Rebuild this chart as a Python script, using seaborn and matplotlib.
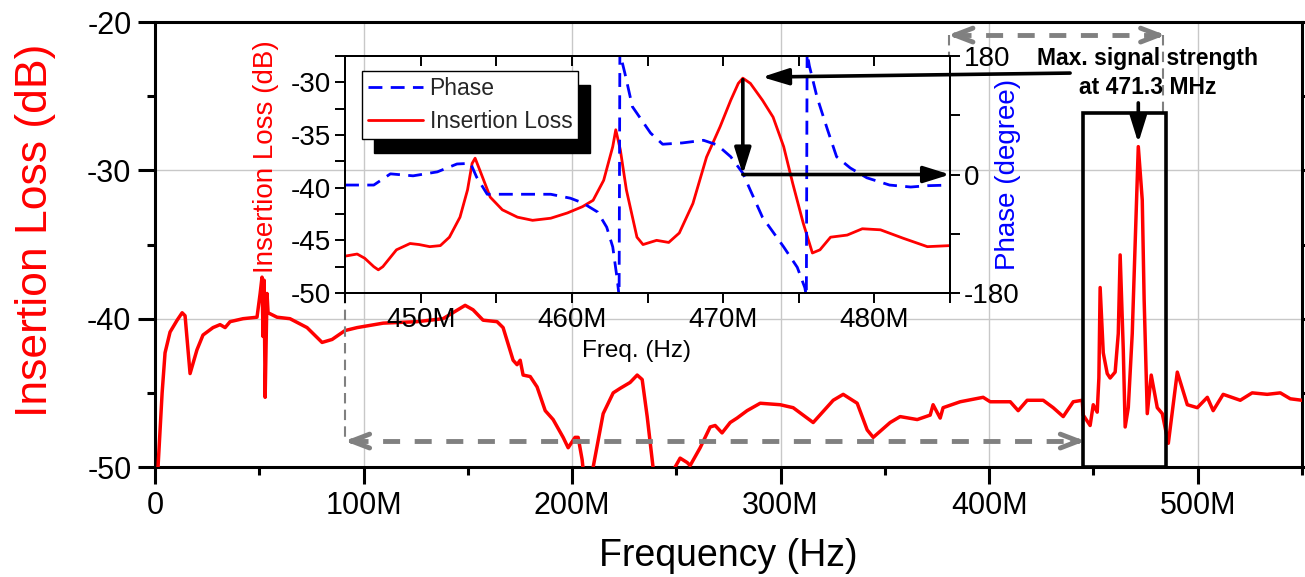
import numpy as np
import pandas as pd
import seaborn as sns
import matplotlib.pyplot as plt
from matplotlib.ticker import MultipleLocator, FuncFormatter, NullFormatter
from matplotlib.lines import Line2D
from matplotlib.patches import Rectangle

# ---- main sweep: frequency (MHz) vs insertion loss (dB)
main_freq = [1.0, 1.44, 3.4, 4.8, 7.2, 10.6, 13.0, 14.4, 16.8, 20.1, 23.0, 27.8,
             31.2, 33.6, 36.0, 42.2, 48.9, 50.4, 51.3, 51.8, 52.3, 52.8, 53.7,
             54.2, 58.5, 64.7, 72.9, 80.1, 84.9, 91.1, 96.9, 109.4, 125.7, 138.1,
             148.7, 152.5, 157.3, 164.0, 166.9, 171.7, 173.6, 175.1, 176.5, 179.9,
             183.2, 187.1, 190.9, 195.7, 198.1, 201.4, 202.9, 204.8, 206.7, 209.0,
             210.1, 214.9, 219.7, 223.0, 227.8, 231.2, 233.6, 236.0, 238.8, 241.0,
             248.0, 249.4, 251.8, 255.2, 256.6, 261.4, 266.2, 268.6, 271.9, 275.8,
             279.1, 283.9, 290.2, 299.8, 306.0, 315.6, 325.2, 330.0, 336.7, 341.5,
             344.4, 352.5, 357.3, 365.5, 371.7, 373.1, 376.5, 377.9, 386.1, 397.1,
             400.5, 410.1, 413.9, 418.2, 425.9, 430.7, 435.5, 440.3, 444.6, 445.1,
             448.4, 449.9, 451.8, 452.6, 453.2, 454.7, 456.6, 458.0, 460.4, 461.9,
             462.8, 464.3, 465.2, 466.7, 468.6, 470.0, 471.5, 473.4, 474.3, 475.8,
             477.7, 480.6, 483.0, 485.9, 490.2, 495.0, 499.8, 504.6, 507.4, 512.2,
             520.4, 526.1, 533.3, 539.6, 544.4, 550.0]
main_loss = [-53.0, -50.0, -45.0, -42.3, -40.9, -40.1, -39.6, -39.8, -43.7, -42.1, -41.1, -40.6,
             -40.4, -40.6, -40.2, -40.0, -39.9, -38.3, -37.2, -41.2, -37.4, -45.3, -38.3,
             -39.6, -39.9, -40.0, -40.6, -41.6, -41.4, -40.8, -40.6, -40.3, -40.2, -40.0,
             -39.1, -39.4, -40.1, -40.2, -40.6, -42.8, -43.1, -42.8, -43.8, -43.9,
             -44.6, -46.2, -46.8, -48.0, -48.7, -48.0, -48.0, -49.5, -52.0, -52.0,
             -50.0, -46.4, -45.0, -44.7, -44.3, -43.8, -44.1, -46.6, -50.0, -53.0,
             -53.0, -50.0, -49.4, -49.7, -49.9, -48.7, -47.3, -47.2, -47.7, -47.0,
             -46.7, -46.2, -45.7, -45.8, -46.0, -47.0, -45.5, -45.1, -45.7, -47.5,
             -48.0, -47.0, -46.6, -46.8, -46.5, -45.8, -46.7, -46.0, -45.6, -45.3,
             -45.6, -45.6, -46.2, -45.5, -45.5, -46.0, -46.6, -45.6, -45.5, -46.5,
             -47.2, -45.8, -46.3, -44.0, -37.9, -42.3, -43.7, -44.0, -43.6, -41.0,
             -35.7, -42.1, -47.3, -46.0, -41.0, -34.9, -28.4, -32.0, -38.7, -46.4,
             -43.8, -46.0, -46.4, -48.4, -43.6, -45.8, -46.0, -45.3, -46.2, -45.1,
             -45.5, -45.0, -45.1, -45.0, -45.4, -45.5]

# ---- zoomed sweep (inset)
zoom_freq = [445.0, 445.8, 446.3, 446.9, 447.2, 447.5, 448.4, 449.3, 449.9, 450.6,
             451.3, 451.9, 452.6, 453.1, 453.4, 453.6, 453.9, 454.6, 455.4, 456.4,
             457.4, 458.6, 459.7, 460.7, 461.4, 462.1, 462.7, 462.9, 463.2, 463.6,
             464.3, 464.7, 465.6, 466.4, 467.1, 468.0, 468.9, 469.8, 470.5, 471.0,
             471.3, 471.8, 472.6, 473.3, 474.0, 474.6, 475.3, 475.9, 476.4, 477.1,
             478.2, 479.2, 480.4, 481.9, 483.5, 485.0]
zoom_loss = [-46.5, -46.3, -46.7, -47.5, -47.8, -47.5, -45.9, -45.3, -45.4, -45.6,
             -45.5, -44.7, -42.8, -40.2, -37.7, -37.2, -38.3, -40.9, -42.1, -42.8,
             -43.1, -42.9, -42.4, -41.8, -41.2, -39.3, -36.1, -34.5, -36.4, -40.2,
             -44.7, -45.4, -45.0, -45.2, -44.3, -41.5, -37.1, -34.2, -31.7, -30.1,
             -29.6, -30.1, -31.7, -33.3, -36.1, -39.6, -43.4, -46.2, -45.9, -44.7,
             -44.5, -43.9, -44.0, -44.8, -45.6, -45.5]

phase_freq = [445.0, 446.9, 448.0, 449.5, 451.1, 452.4, 453.3, 453.7, 454.4, 456.4,
              458.6, 459.9, 460.7, 461.7, 462.3, 462.7, 463.0, 463.12, 463.17, 463.5,
              464.0, 465.2, 466.0, 467.3, 468.7, 469.6, 470.5, 471.3, 471.8, 472.6,
              474.0, 474.9, 475.4, 475.5, 475.55, 475.7, 476.2, 476.9, 477.5, 478.4,
              479.5, 481.0, 482.4, 483.5, 485.0]
phase_deg = [-16, -16, 1, -2, 4, 16, 17, -4, -30, -30,
             -30, -36, -43, -57, -80, -110, -160, -185, 185, 154,
             103, 63, 46, 48, 52, 45, 27, 2, -24, -65,
             -110, -141, -172, -185, 185, 165, 118, 68, 27, 10,
             -5, -16, -19, -17, -16]

peak_freq = 471.3

sns.set_theme(style="ticks")
plt.rcParams['font.family'] = ['Liberation Sans', 'DejaVu Sans']
plt.rcParams['axes.unicode_minus'] = False

fig = plt.figure(figsize=(13.05, 5.77), dpi=100)
ax = fig.add_axes([0.1188, 0.1906, 0.8789, 0.7712])

sns.lineplot(x=main_freq, y=main_loss, ax=ax, color='red', lw=2.5,
             estimator=None, sort=False, zorder=3)
ax.set_xlim(0, 550)
ax.set_ylim(-50, -20)
ax.xaxis.set_major_locator(MultipleLocator(100))
ax.xaxis.set_minor_locator(MultipleLocator(50))
ax.yaxis.set_major_locator(MultipleLocator(10))
ax.yaxis.set_minor_locator(MultipleLocator(5))
ax.xaxis.set_major_formatter(FuncFormatter(lambda v, p: '0' if v == 0 else f'{v:.0f}M'))
ax.grid(True, which='major', color='#c8c8c8', lw=1.0)
ax.set_axisbelow(True)
for s in ax.spines.values():
    s.set_linewidth(2.2)
    s.set_color('black')
ax.tick_params(which='major', direction='out', length=12, width=2.2,
               labelsize=22, colors='black', pad=5, right=True, labelright=False)
ax.tick_params(which='minor', direction='out', length=6, width=2.2,
               colors='black', right=True)
ax.set_ylabel('Insertion Loss (dB)', color='red', fontsize=32)
ax.yaxis.set_label_coords(-0.086, 0.533)
ax.set_xlabel('Frequency (Hz)', fontsize=27, color='black')
ax.xaxis.set_label_coords(0.5, -0.16)

# zoom window in the main plot
ax.add_patch(Rectangle((445, -50), 40, 23.9, fill=False, ec='black', lw=2.6, zorder=5))

gray = '#808080'
def gray_span(x0, x1, y):
    ax.plot([x0 + 3, x1 - 3], [y, y], color=gray, lw=3.5,
            ls=(0, (3.5, 3.0)), zorder=4, solid_capstyle='butt')
    for tip, tail in ((x0, x0 + 6), (x1, x1 - 6)):
        ax.annotate('', xy=(tip, y), xytext=(tail, y),
                    arrowprops=dict(arrowstyle='->,head_length=13,head_width=5',
                                    mutation_scale=1, lw=3.5, color=gray,
                                    shrinkA=0, shrinkB=0), zorder=4)

def gray_drop(x, y0, y1):
    ax.plot([x, x], [y0, y1], color=gray, lw=1.5, ls=(0, (5, 3)), zorder=4)

gray_span(91, 446, -48.25)
gray_span(380.3, 484.5, -20.88)
gray_drop(91.1, -38.3, -48.25)
gray_drop(380.6, -20.9, -22.3)
gray_drop(483.5, -20.9, -26.1)

ax.text(475.8, -23.45, 'Max. signal strength\nat 471.3 MHz', ha='center', va='center',
        fontsize=16.5, fontweight='bold', linespacing=1.35, color='black', zorder=6)
black_arrow = dict(arrowstyle='-|>,head_length=16,head_width=5', mutation_scale=1,
                   lw=2.6, color='black', shrinkA=0, shrinkB=0)
ax.annotate('', xy=(471.5, -28.15), xytext=(471.5, -25.45), arrowprops=black_arrow, zorder=6)

# ---- inset
ax_in = fig.add_axes([0.2644, 0.4922, 0.4636, 0.4107])
ax_in.patch.set_alpha(0)
sns.lineplot(x=zoom_freq, y=zoom_loss, ax=ax_in, color='red', lw=2.0,
             estimator=None, sort=False)
ax_in.set_xlim(445, 485)
ax_in.set_ylim(-50, -27.5)
ax_in.xaxis.set_major_locator(MultipleLocator(10))
ax_in.xaxis.set_minor_locator(MultipleLocator(5))
ax_in.yaxis.set_major_locator(MultipleLocator(5))
ax_in.yaxis.set_minor_locator(MultipleLocator(2.5))
ax_in.xaxis.set_major_formatter(FuncFormatter(lambda v, p: f'{v:.0f}M'))
for s in ax_in.spines.values():
    s.set_linewidth(1.4)
    s.set_color('black')
ax_in.tick_params(which='major', direction='out', length=7, width=1.4,
                  labelsize=20, colors='black', pad=3)
ax_in.tick_params(which='minor', direction='out', length=7, width=1.4, colors='black')
ax_in.set_ylabel('Insertion Loss (dB)', color='red', fontsize=20)
ax_in.yaxis.set_label_coords(-0.109, 0.574)
ax_in.set_xlabel('Freq. (Hz)', fontsize=17.5, color='black')
ax_in.xaxis.set_label_coords(0.481, -0.2)

top = ax_in.secondary_xaxis('top')
top.xaxis.set_major_locator(MultipleLocator(5))
top.xaxis.set_major_formatter(NullFormatter())
top.tick_params(direction='in', length=7, width=1.4, colors='black')
top.spines['top'].set_linewidth(1.4)

ax_ph = ax_in.twinx()
sns.lineplot(x=phase_freq, y=phase_deg, ax=ax_ph, color='blue', lw=2.0,
             ls=(0, (5, 3)), estimator=None, sort=False)
ax_ph.set_ylim(-180, 180)
ax_ph.yaxis.set_major_locator(MultipleLocator(180))
ax_ph.yaxis.set_minor_locator(MultipleLocator(90))
for s in ax_ph.spines.values():
    s.set_linewidth(1.4)
    s.set_color('black')
ax_ph.tick_params(which='major', direction='out', length=7, width=1.4,
                  labelsize=20, colors='black', pad=3)
ax_ph.tick_params(which='minor', direction='out', length=7, width=1.4, colors='black')
ax_ph.set_ylabel('Phase (degree)', color='blue', fontsize=20)
ax_ph.yaxis.set_label_coords(1.074, 0.5)

# arrows marking the peak and its zero phase
ax_ph.annotate('', xy=(472.57, -29.5), xycoords=ax_in.transData,
               xytext=(438.8, -23.44), textcoords=ax.transData,
               arrowprops=black_arrow, annotation_clip=False, zorder=6)
ax_ph.annotate('', xy=(peak_freq, 0), xycoords='data',
               xytext=(peak_freq, -29.75), textcoords=ax_in.transData,
               arrowprops=black_arrow, annotation_clip=False)
ax_ph.annotate('', xy=(485, 0), xytext=(peak_freq, 0),
               arrowprops=black_arrow, annotation_clip=False)

handles = [Line2D([], [], color='blue', lw=2.0, ls=(0, (5, 3))),
           Line2D([], [], color='red', lw=2.0)]
leg = ax_ph.legend(handles, ['Phase', 'Insertion Loss'], loc='upper left',
                   bbox_to_anchor=(0.028, 0.937), borderaxespad=0, fontsize=16.5,
                   frameon=True, fancybox=False, framealpha=1, edgecolor='black',
                   handlelength=2.4, handletextpad=0.3, labelspacing=0.45,
                   borderpad=0.25,
                   shadow={'ox': 8.6, 'oy': -10, 'facecolor': 'black',
                           'edgecolor': 'black', 'alpha': 1})
leg.get_frame().set_linewidth(1.0)

fig.savefig('out.png', dpi=100)
